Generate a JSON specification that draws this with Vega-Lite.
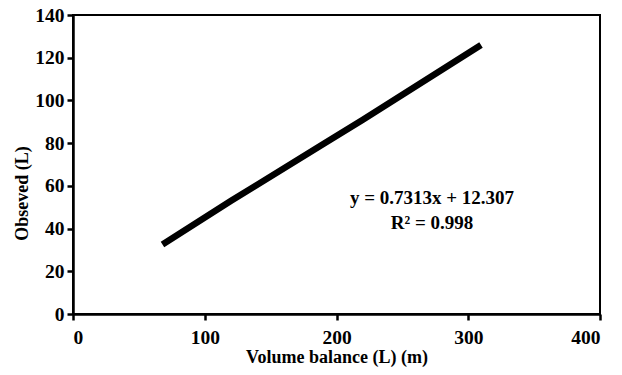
{
  "$schema": "https://vega.github.io/schema/vega-lite/v6.json",
  "width": 527,
  "height": 299,
  "autosize": {"type": "none"},
  "padding": {"left": 73, "top": 15, "right": 22, "bottom": 61},
  "background": "white",
  "config": {
    "view": {"stroke": "black", "strokeWidth": 2},
    "font": "'Liberation Serif', 'Times New Roman', 'DejaVu Serif', serif",
    "axis": {
      "grid": false,
      "domainColor": "black",
      "domainWidth": 2.5,
      "tickColor": "black",
      "tickWidth": 2.5,
      "tickSize": 6,
      "labelFont": "'Liberation Serif', 'Times New Roman', 'DejaVu Serif', serif",
      "labelFontWeight": "bold",
      "labelFontSize": 19.5,
      "labelColor": "black",
      "titleFont": "'Liberation Serif', 'Times New Roman', 'DejaVu Serif', serif",
      "titleFontWeight": "bold",
      "titleFontSize": 18,
      "titleColor": "black"
    }
  },
  "layer": [
    {
      "data": {
        "values": [
          {"x": 70, "y": 33.4},
          {"x": 120, "y": 53.0},
          {"x": 190, "y": 79.6},
          {"x": 220, "y": 91.0},
          {"x": 307.6, "y": 125.1}
        ]
      },
      "mark": {"type": "line", "color": "black", "strokeWidth": 6.5, "strokeCap": "square"},
      "encoding": {
        "x": {
          "field": "x", "type": "quantitative",
          "scale": {"domain": [0, 400], "nice": false},
          "axis": {"values": [0, 100, 200, 300, 400], "title": "Volume balance (L) (m)", "labelPadding": 8, "titlePadding": 2}
        },
        "y": {
          "field": "y", "type": "quantitative",
          "scale": {"domain": [0, 140], "nice": false},
          "axis": {"values": [0, 20, 40, 60, 80, 100, 120, 140], "title": "Obseved (L)", "labelPadding": 3, "titlePadding": 3, "titleY": 178}
        }
      }
    },
    {
      "data": {
        "values": [
          {"label": "y = 0.7313x + 12.307", "x": 272.5, "y": 54.3},
          {"label": "R² = 0.998", "x": 272.5, "y": 42.6}
        ]
      },
      "mark": {"type": "text", "font": "'Liberation Serif', 'Times New Roman', 'DejaVu Serif', serif", "fontWeight": "bold", "fontSize": 19, "color": "black", "align": "center", "baseline": "middle"},
      "encoding": {
        "x": {"field": "x", "type": "quantitative"},
        "y": {"field": "y", "type": "quantitative"},
        "text": {"field": "label"}
      }
    }
  ]
}
